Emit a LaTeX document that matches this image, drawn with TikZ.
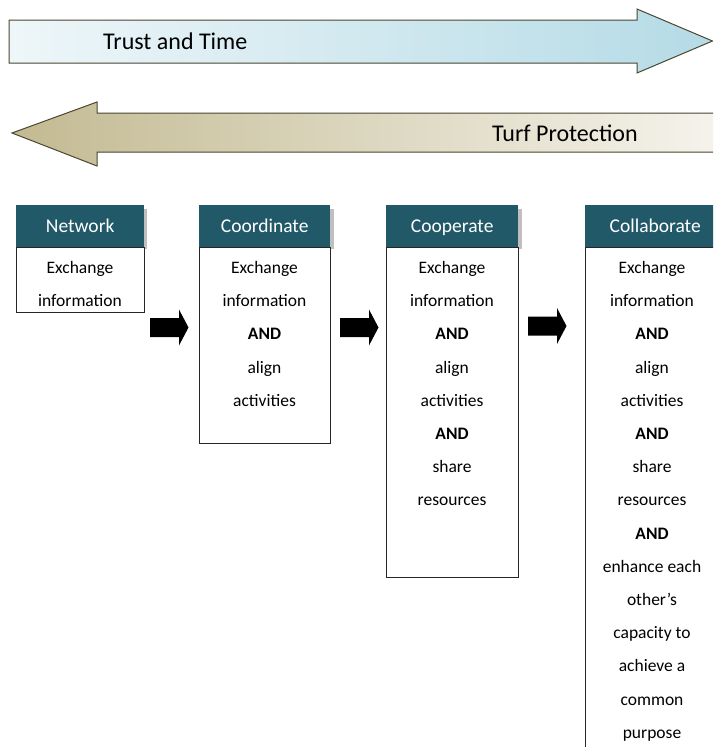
\documentclass[tikz,border=0pt]{standalone}
\usepackage{fontspec}
\setmainfont{Carlito}
\definecolor{hdrteal}{HTML}{215968}
\definecolor{arrowedge}{HTML}{4A4630}
\definecolor{trustL}{HTML}{EEF6F9}
\definecolor{trustR}{HTML}{B5DBE6}
\definecolor{turfL}{HTML}{C3BA92}
\definecolor{turfR}{HTML}{F5F3EC}
\begin{document}
\begin{tikzpicture}[x=1pt,y=-1pt,
  bigtext/.style={font=\fontsize{24}{26}\selectfont, inner sep=0pt},
  hdr/.style={fill=hdrteal, draw=none, text=white, anchor=north west, minimum height=42, inner sep=0pt,
     font=\fontsize{19.5}{22}\selectfont, text height=12.5pt, text depth=0pt},
  hdrshadow/.style={fill=black!25, draw=none},
  bodybox/.style={draw=black!85, line width=1.2pt, fill=white, anchor=north west, inner sep=0pt},
  linetext/.style={font=\fontsize{17.5}{20}\selectfont, anchor=base, inner sep=0pt},
  blockarrow/.pic={\fill[black] (0,-9.5) -- (29,-9.5) -- (29,-18) -- (38.5,0) -- (29,18) -- (29,9.5) -- (0,9.5) -- cycle;}
]
\useasboundingbox (0,0) rectangle (713,747);
\clip (0,0) rectangle (713,747);

% big arrows
\path[draw=arrowedge, line width=1pt, left color=trustL, right color=trustR]
  (9,20) -- (637,20) -- (637,9) -- (712.5,41) -- (637,73) -- (637,63) -- (9,63) -- cycle;
\node[bigtext, anchor=base west] (trust) at (103,49.5) {Trust and Time};

\path[draw=arrowedge, line width=1pt, left color=turfL, right color=turfR]
  (720,113) -- (97,113) -- (97,102) -- (12,133) -- (97,166) -- (97,152) -- (720,152) -- cycle;
\node[bigtext, anchor=base west] (turf) at (492,141.5) {Turf Protection};

% Network
\fill[hdrshadow] (143,209) rectangle (147,249);
\node[hdr, minimum width=128] (nethdr) at (16,205) {Network};
\node[bodybox, minimum width=128, minimum height=65] (netbody) at (16,247) {};
% Coordinate
\fill[hdrshadow] (330,209) rectangle (334,249);
\node[hdr, minimum width=131] (coordhdr) at (199,205) {Coordinate};
\node[bodybox, minimum width=131, minimum height=196] (coordbody) at (199,247) {};
% Cooperate
\fill[hdrshadow] (518,209) rectangle (522,249);
\node[hdr, minimum width=132] (coophdr) at (386,205) {Cooperate};
\node[bodybox, minimum width=132, minimum height=330] (coopbody) at (386,247) {};
% Collaborate
\node[hdr, minimum width=140] (collhdr) at (585,205) {Collaborate};
\node[bodybox, minimum width=140, minimum height=560] (collbody) at (585,247) {};

% texts
\foreach [count=\i from 0] \t in {Exchange, information}
  \node[linetext] (net-\i) at (80,273.5+33.2*\i) {\t};
\foreach [count=\i from 0] \t in {Exchange, information, \textbf{AND}, align, activities}
  \node[linetext] (coord-\i) at (264.5,273.5+33.2*\i) {\t};
\foreach [count=\i from 0] \t in {Exchange, information, \textbf{AND}, align, activities, \textbf{AND}, share, resources}
  \node[linetext] (coop-\i) at (452,273.5+33.2*\i) {\t};
\foreach [count=\i from 0] \t in {Exchange, information, \textbf{AND}, align, activities, \textbf{AND}, share, resources, \textbf{AND}, enhance each, other’s, capacity to, achieve a, common, purpose}
  \node[linetext] (coll-\i) at (652,273.5+33.2*\i) {\t};

% block arrows
\pic (arr1) at (150,327.5) {blockarrow};
\pic (arr2) at (340,327.5) {blockarrow};
\pic (arr3) at (528,326) {blockarrow};
\end{tikzpicture}
\end{document}
